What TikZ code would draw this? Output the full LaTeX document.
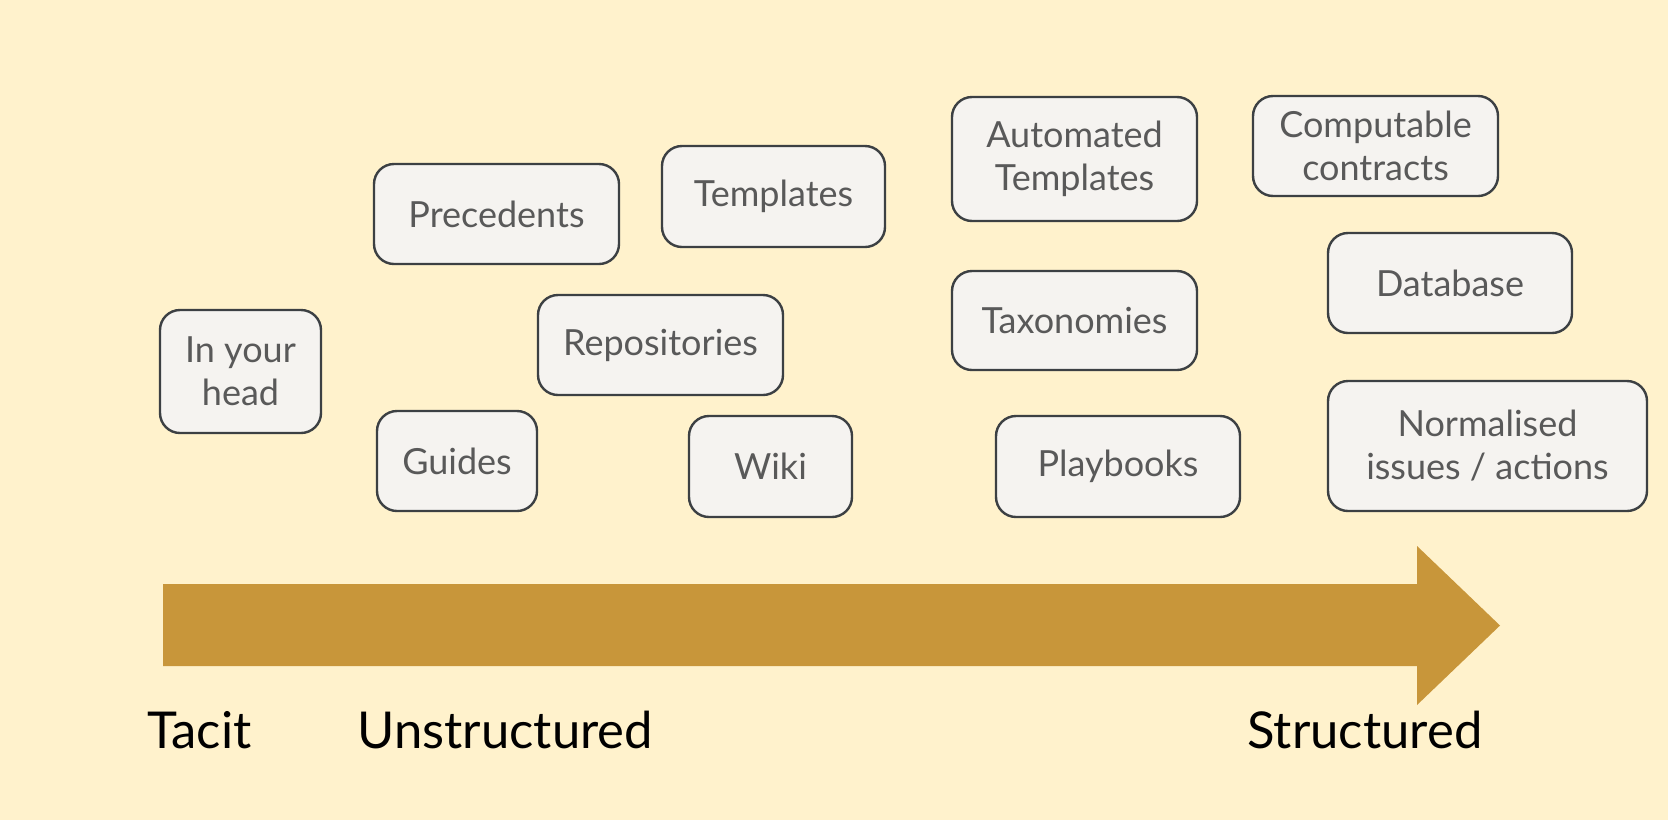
\documentclass[tikz,border=0pt]{standalone}
\usepackage{fontspec}
\setmainfont{Lato}
\usepackage{xcolor}
\usepackage{tikz}
\usetikzlibrary{positioning}

\definecolor{paper}{HTML}{FFF2CC}
\definecolor{cardfill}{HTML}{F5F3F0}
\definecolor{cardline}{HTML}{3C4043}
\definecolor{cardtext}{HTML}{595959}
\definecolor{arrowgold}{HTML}{C8963A}

\begin{document}
\begin{tikzpicture}[x=0.5pt, y=-0.5pt]
\tikzstyle{card} = [rectangle, draw=cardline, fill=cardfill, line width=1.2pt, rounded corners=10pt, align=center, text=cardtext, font=\fontsize{18}{21.5}\selectfont]
\tikzstyle{stage} = [anchor=base west, inner sep=0pt, font=\fontsize{25.4}{30}\selectfont]

\useasboundingbox (0,0) rectangle (1668,820);
\fill[paper] (0,0) rectangle (1668,820);

% the scale arrow
\fill[arrowgold] (163,584) -- (1417,584) -- (1417,546) -- (1500,625.5) -- (1417,705) -- (1417,666) -- (163,666) -- cycle;

% tacit / unstructured
\node (head) [card, minimum width=80.5pt, minimum height=61.5pt] at (240.5,371.5) {In your\\head};
\node (precedents) [card, minimum width=122.5pt, minimum height=50pt] at (496.5,214) {Precedents};
\node (templates) [card, minimum width=111.5pt, minimum height=50.5pt] at (773.5,196.5) {Templates};
\node (repos) [card, minimum width=122.5pt, minimum height=50pt] at (660.5,345) {Repositories};
\node (guides) [card, minimum width=80pt, minimum height=50pt] at (457,461) {Guides};
\node (wiki) [card, minimum width=81.5pt, minimum height=50.5pt] at (770.5,466.5) {Wiki};

% structured
\node (autotpl) [card, minimum width=122.5pt, minimum height=62pt] at (1074.5,159) {Automated\\Templates};
\node (taxonomies) [card, minimum width=122.5pt, minimum height=49.5pt] at (1074.5,320.5) {Taxonomies};
\node (playbooks) [card, minimum width=122pt, minimum height=50.5pt] at (1118,466.5) {Playbooks};
\node (contracts) [card, minimum width=122.5pt, minimum height=50pt] at (1375.5,146) {Computable\\contracts};
\node (database) [card, minimum width=122pt, minimum height=50pt] at (1450,283) {Database};
\node (issues) [card, minimum width=159.5pt, minimum height=65pt] at (1487.5,446) {Normalised\\issues / actions};

% stage labels
\node (tacit) [stage] at (147,748) {Tacit};
\node (unstructured) [stage] at (357,748) {Unstructured};
\node (structured) [stage] at (1247,748) {Structured};

\end{tikzpicture}
\end{document}
